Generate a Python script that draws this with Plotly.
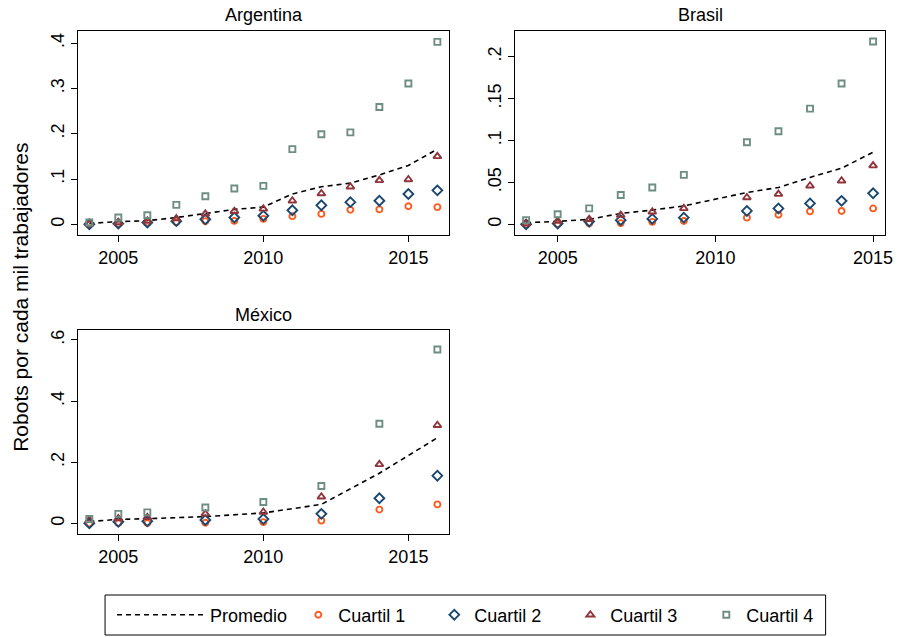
import plotly.graph_objects as go

# ---------------- data ----------------
years_ar = [2004, 2005, 2006, 2007, 2008, 2009, 2010, 2011, 2012, 2013, 2014, 2015, 2016]
ar_prom = [0.002, 0.006, 0.008, 0.015, 0.024, 0.033, 0.038, 0.067, 0.083, 0.091, 0.109, 0.130, 0.166]
ar_q1 = [0.000, 0.0015, 0.004, 0.0045, 0.007, 0.0075, 0.012, 0.018, 0.023, 0.032, 0.033, 0.040, 0.038]
ar_q2 = [0.000, 0.0015, 0.004, 0.007, 0.011, 0.015, 0.019, 0.031, 0.042, 0.049, 0.052, 0.067, 0.075]
ar_q3 = [0.001, 0.004, 0.007, 0.0125, 0.023, 0.029, 0.034, 0.052, 0.068, 0.083, 0.097, 0.099, 0.150]
ar_q4 = [0.004, 0.015, 0.020, 0.043, 0.062, 0.079, 0.085, 0.166, 0.199, 0.203, 0.259, 0.311, 0.403]

years_br = [2004, 2005, 2006, 2007, 2008, 2009, 2011, 2012, 2013, 2014, 2015]
br_prom = [0.002, 0.0035, 0.006, 0.013, 0.017, 0.022, 0.038, 0.044, 0.056, 0.067, 0.086]
br_q1 = [0.000, 0.0005, 0.001, 0.0015, 0.003, 0.004, 0.008, 0.0115, 0.0155, 0.016, 0.019]
br_q2 = [0.000, 0.001, 0.0035, 0.005, 0.0065, 0.008, 0.016, 0.019, 0.025, 0.028, 0.037]
br_q3 = [0.001, 0.004, 0.006, 0.011, 0.015, 0.019, 0.032, 0.036, 0.046, 0.052, 0.070]
br_q4 = [0.005, 0.012, 0.019, 0.035, 0.044, 0.059, 0.098, 0.111, 0.138, 0.168, 0.218]

years_mx = [2004, 2005, 2006, 2008, 2010, 2012, 2014, 2016]
mx_prom = [0.006, 0.013, 0.015, 0.022, 0.034, 0.062, 0.164, 0.280]
mx_q1 = [0.000, 0.001, 0.001, 0.002, 0.004, 0.009, 0.045, 0.062]
mx_q2 = [0.000, 0.005, 0.007, 0.011, 0.014, 0.031, 0.082, 0.156]
mx_q3 = [0.011, 0.016, 0.020, 0.031, 0.037, 0.087, 0.193, 0.321]
mx_q4 = [0.014, 0.031, 0.036, 0.052, 0.070, 0.122, 0.326, 0.569]

panel_titles = ["Argentina", "Brasil", "México"]
series_names = ["Promedio", "Cuartil 1", "Cuartil 2", "Cuartil 3", "Cuartil 4"]

x_tickvals = [2005, 2010, 2015]
x_ticktext = ["2005", "2010", "2015"]
ar_ytickvals = [0, 0.1, 0.2, 0.3, 0.4]
ar_yticktext = ["0", ".1", ".2", ".3", ".4"]
br_ytickvals = [0, 0.05, 0.1, 0.15, 0.2]
br_yticktext = ["0", ".05", ".1", ".15", ".2"]
mx_ytickvals = [0, 0.2, 0.4, 0.6]
mx_yticktext = ["0", ".2", ".4", ".6"]

y_title = "Robots por cada mil trabajadores"

# ---------------- style ----------------
W, H = 902, 637
FONT = "Liberation Sans, Arial, Helvetica, sans-serif"
marker_colors = ["#ff5a1e", "#1a476f", "#90353b", "#6e8e84"]
marker_symbols = ["circle-open", "diamond-open", "triangle-up-open", "square-open"]
marker_sizes = [6, 7.5, 7, 6]


def px_x(p):
    return p / W


def px_y(p):
    return 1 - p / H


panels = [
    dict(years=years_ar, prom=ar_prom, qs=[ar_q1, ar_q2, ar_q3, ar_q4],
         xd=[px_x(79), px_x(453)], yd=[px_y(235), px_y(31)],
         xr=[2003.62, 2016.40], yr=[-0.0236, 0.427],
         tv=ar_ytickvals, tt=ar_yticktext),
    dict(years=years_br, prom=br_prom, qs=[br_q1, br_q2, br_q3, br_q4],
         xd=[px_x(520), px_x(893)], yd=[px_y(235), px_y(31)],
         xr=[2003.66, 2015.38], yr=[-0.0127, 0.2306],
         tv=br_ytickvals, tt=br_yticktext),
    dict(years=years_mx, prom=mx_prom, qs=[mx_q1, mx_q2, mx_q3, mx_q4],
         xd=[px_x(79), px_x(453)], yd=[px_y(534), px_y(330)],
         xr=[2003.62, 2016.40], yr=[-0.0349, 0.6327],
         tv=mx_ytickvals, tt=mx_yticktext),
]

fig = go.Figure()
layout = dict(
    width=W, height=H, autosize=False,
    margin=dict(l=0, r=0, t=0, b=0),
    paper_bgcolor="white", plot_bgcolor="white",
    font=dict(family=FONT, size=18, color="black"),
    showlegend=True,
)

annotations = []
for i, p in enumerate(panels):
    sfx = "" if i == 0 else str(i + 1)
    xa, ya = "x" + sfx, "y" + sfx
    first = i == 0
    fig.add_trace(go.Scatter(
        x=p["years"], y=p["prom"], mode="lines", name=series_names[0],
        line=dict(color="black", width=1.6, dash="5px,4px"),
        xaxis=xa, yaxis=ya, showlegend=first, legend="legend",
    ))
    for k in range(4):
        fig.add_trace(go.Scatter(
            x=p["years"], y=p["qs"][k], mode="markers", name=series_names[k + 1],
            marker=dict(symbol=marker_symbols[k], size=marker_sizes[k],
                        color=marker_colors[k],
                        line=dict(width=1.9, color=marker_colors[k])),
            xaxis=xa, yaxis=ya, showlegend=first, legend="legend2",
        ))
    axis_common = dict(showline=True, linecolor="black", linewidth=1, mirror=True,
                       ticks="outside", ticklen=6, tickcolor="black", tickwidth=1,
                       showgrid=False, zeroline=False,
                       tickfont=dict(family=FONT, size=18, color="black"))
    layout["xaxis" + sfx] = dict(domain=p["xd"], range=p["xr"], anchor=ya,
                                 tickmode="array", tickvals=x_tickvals,
                                 ticktext=x_ticktext, **axis_common)
    layout["yaxis" + sfx] = dict(domain=p["yd"], range=p["yr"], anchor=xa,
                                 tickmode="array", tickvals=p["tv"],
                                 ticktext=p["tt"], tickangle=-90, **axis_common)
    annotations.append(dict(
        text=panel_titles[i], xref="paper", yref="paper",
        x=(p["xd"][0] + p["xd"][1]) / 2, y=p["yd"][1] + 15.5 / H,
        xanchor="center", yanchor="middle", showarrow=False,
        font=dict(family=FONT, size=18, color="black"),
    ))

annotations.append(dict(
    text=y_title, xref="paper", yref="paper", x=px_x(20), y=px_y(297),
    xanchor="center", yanchor="middle", textangle=-90, showarrow=False,
    font=dict(family=FONT, size=21, color="black"),
))
layout["annotations"] = annotations

layout["legend"] = dict(orientation="h", x=px_x(113), y=px_y(615),
                        xanchor="left", yanchor="middle", itemwidth=88,
                        bgcolor="rgba(0,0,0,0)", borderwidth=0,
                        font=dict(family=FONT, size=18, color="black"))
layout["legend2"] = dict(orientation="h", x=px_x(301), y=px_y(615),
                         xanchor="left", yanchor="middle",
                         entrywidth=91, entrywidthmode="pixels",
                         bgcolor="rgba(0,0,0,0)", borderwidth=0,
                         font=dict(family=FONT, size=18, color="black"))
layout["shapes"] = [dict(type="rect", xref="paper", yref="paper",
                         x0=px_x(106), x1=px_x(833), y0=px_y(635), y1=px_y(595),
                         line=dict(color="black", width=1), fillcolor="rgba(0,0,0,0)")]

fig.update_layout(**layout)
fig.write_html("out.html")
